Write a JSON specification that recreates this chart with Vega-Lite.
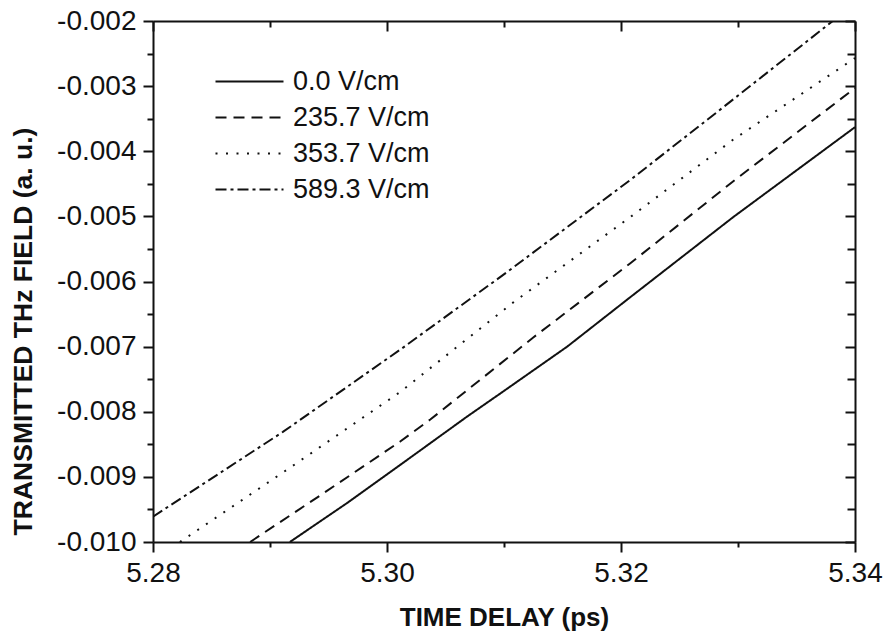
{
  "$schema": "https://vega.github.io/schema/vega-lite/v6.json",
  "width": 702,
  "height": 521,
  "autosize": {"type": "none"},
  "padding": {"left": 153, "top": 21, "right": 31, "bottom": 95},
  "background": "white",
  "config": {
    "view": {"stroke": null},
    "axis": {
      "domainColor": "#111",
      "domainWidth": 2,
      "tickColor": "#111",
      "tickWidth": 2,
      "grid": false,
      "labelFont": "Liberation Sans",
      "labelColor": "#111",
      "labelFontSize": 28,
      "titleFont": "Liberation Sans",
      "titleColor": "#111",
      "titleFontSize": 26,
      "titleFontWeight": "bold",
      "labelOverlap": false,
      "labelFlush": false,
      "labelBound": false
    }
  },
  "data": {
    "values": [
      {"series": "0.0 V/cm", "t": 5.2917, "v": -0.0100},
      {"series": "0.0 V/cm", "t": 5.2966, "v": -0.00940},
      {"series": "0.0 V/cm", "t": 5.3011, "v": -0.00882},
      {"series": "0.0 V/cm", "t": 5.3068, "v": -0.00808},
      {"series": "0.0 V/cm", "t": 5.3100, "v": -0.00768},
      {"series": "0.0 V/cm", "t": 5.3154, "v": -0.00700},
      {"series": "0.0 V/cm", "t": 5.3208, "v": -0.00624},
      {"series": "0.0 V/cm", "t": 5.3296, "v": -0.00501},
      {"series": "0.0 V/cm", "t": 5.3400, "v": -0.00363},
      {"series": "235.7 V/cm", "t": 5.2883, "v": -0.0100},
      {"series": "235.7 V/cm", "t": 5.2945, "v": -0.00926},
      {"series": "235.7 V/cm", "t": 5.3011, "v": -0.00846},
      {"series": "235.7 V/cm", "t": 5.3037, "v": -0.00812},
      {"series": "235.7 V/cm", "t": 5.3125, "v": -0.00686},
      {"series": "235.7 V/cm", "t": 5.3208, "v": -0.00572},
      {"series": "235.7 V/cm", "t": 5.3296, "v": -0.00446},
      {"series": "235.7 V/cm", "t": 5.3400, "v": -0.00303},
      {"series": "353.7 V/cm", "t": 5.2823, "v": -0.0100},
      {"series": "353.7 V/cm", "t": 5.2917, "v": -0.00886},
      {"series": "353.7 V/cm", "t": 5.3011, "v": -0.00770},
      {"series": "353.7 V/cm", "t": 5.3108, "v": -0.00632},
      {"series": "353.7 V/cm", "t": 5.3208, "v": -0.00501},
      {"series": "353.7 V/cm", "t": 5.3296, "v": -0.00382},
      {"series": "353.7 V/cm", "t": 5.3400, "v": -0.00257},
      {"series": "589.3 V/cm", "t": 5.2800, "v": -0.00961},
      {"series": "589.3 V/cm", "t": 5.2911, "v": -0.00831},
      {"series": "589.3 V/cm", "t": 5.3011, "v": -0.00705},
      {"series": "589.3 V/cm", "t": 5.3103, "v": -0.00585},
      {"series": "589.3 V/cm", "t": 5.3208, "v": -0.00444},
      {"series": "589.3 V/cm", "t": 5.3282, "v": -0.00340},
      {"series": "589.3 V/cm", "t": 5.3381, "v": -0.00200}
    ]
  },
  "layer": [
    {
      "mark": {"type": "line", "color": "#111", "strokeWidth": 2, "clip": true},
      "encoding": {
        "x": {
          "field": "t", "type": "quantitative",
          "scale": {"domain": [5.28, 5.34], "nice": false, "zero": false},
          "axis": {
            "orient": "bottom",
            "values": [5.28, 5.29, 5.30, 5.31, 5.32, 5.33, 5.34],
            "tickSize": {"condition": {"test": "abs(round(datum.value*100)) % 2 == 0", "value": 10}, "value": 5},
            "labelExpr": "abs(round(datum.value*100)) % 2 == 0 ? format(datum.value, '.2f') : ''",
            "labelPadding": 7,
            "title": "TIME DELAY (ps)",
            "titleX": 351,
            "titleY": 83,
            "titleAlign": "center",
            "titleBaseline": "alphabetic"
          }
        },
        "y": {
          "field": "v", "type": "quantitative",
          "scale": {"domain": [-0.010, -0.002], "nice": false, "zero": false},
          "axis": {
            "orient": "left",
            "values": [-0.010, -0.0095, -0.009, -0.0085, -0.008, -0.0075, -0.007, -0.0065, -0.006, -0.0055, -0.005, -0.0045, -0.004, -0.0035, -0.003, -0.0025, -0.002],
            "tickSize": {"condition": {"test": "abs(round(datum.value*2000)) % 2 == 0", "value": 10}, "value": 6},
            "labelExpr": "abs(round(datum.value*2000)) % 2 == 0 ? '-' + format(-datum.value, '.3f') : ''",
            "labelPadding": 7,
            "title": "TRANSMITTED THz FIELD (a. u.)",
            "titleFontSize": 26.5,
            "titleX": -130,
            "titleY": 310,
            "titleAngle": -90,
            "titleAlign": "center",
            "titleBaseline": "middle"
          }
        },
        "strokeDash": {
          "field": "series", "type": "nominal",
          "scale": {
            "domain": ["0.0 V/cm", "235.7 V/cm", "353.7 V/cm", "589.3 V/cm"],
            "range": [[1, 0], [11, 7], [2, 8.5], [11, 4, 3, 4]]
          },
          "legend": {
            "orient": "none",
            "legendX": 83,
            "legendY": 47,
            "title": null,
            "padding": 0,
            "symbolType": "M-3.4,0L3.4,0",
            "symbolSize": 400,
            "symbolStrokeWidth": 2,
            "symbolStrokeColor": "#111",
            "labelFont": "Liberation Sans",
            "labelFontSize": 27,
            "labelColor": "#111",
            "labelOffset": 30,
            "rowPadding": 8
          }
        }
      }
    },
    {
      "mark": {"type": "line", "opacity": 0},
      "encoding": {
        "x": {
          "field": "t", "type": "quantitative",
          "scale": {"domain": [5.28, 5.34], "nice": false, "zero": false},
          "axis": {
            "orient": "top",
            "values": [5.28, 5.29, 5.30, 5.31, 5.32, 5.33, 5.34],
            "tickSize": {"condition": {"test": "abs(round(datum.value*100)) % 2 == 0", "value": -10}, "value": -6},
            "labels": false,
            "title": null
          }
        },
        "y": {
          "field": "v", "type": "quantitative",
          "scale": {"domain": [-0.010, -0.002], "nice": false, "zero": false},
          "axis": {
            "orient": "right",
            "values": [-0.010, -0.0095, -0.009, -0.0085, -0.008, -0.0075, -0.007, -0.0065, -0.006, -0.0055, -0.005, -0.0045, -0.004, -0.0035, -0.003, -0.0025, -0.002],
            "tickSize": {"condition": {"test": "abs(round(datum.value*2000)) % 2 == 0", "value": -10}, "value": -8},
            "labels": false,
            "title": null
          }
        },
        "detail": {"field": "series", "type": "nominal"}
      }
    }
  ],
  "resolve": {"axis": {"x": "independent", "y": "independent"}}
}
